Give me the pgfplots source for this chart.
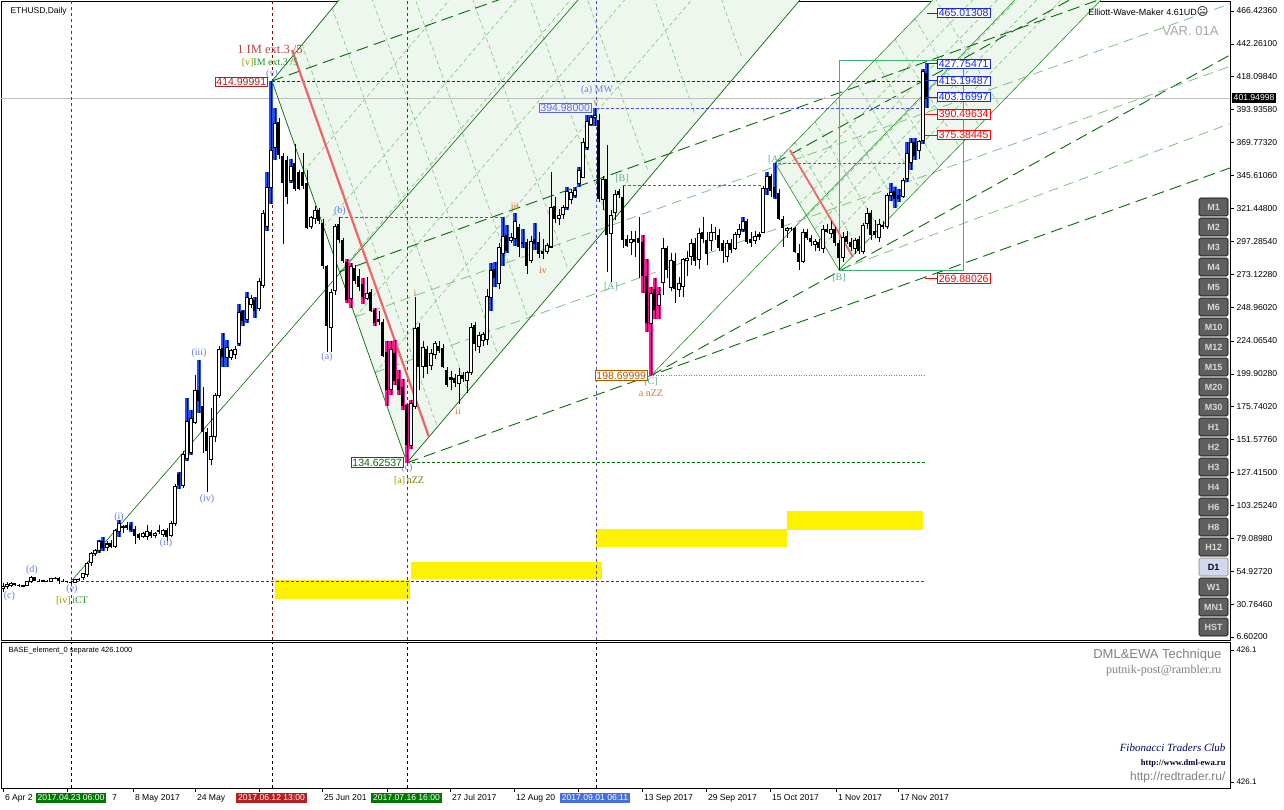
\documentclass[border=0pt]{standalone}
\usepackage{fontspec}
\setmainfont{Liberation Sans}
\newfontfamily\serifL{Liberation Serif}
\newfontfamily\dejavu{DejaVu Sans}
\usepackage{pgfplots}
\usepackage{pgfplotstable}
\pgfplotsset{compat=1.18}

\definecolor{dkgreen}{RGB}{0,110,0}
\definecolor{ltgreen}{RGB}{125,195,125}
\definecolor{bandfill}{RGB}{238,247,238}
\definecolor{wblue}{RGB}{100,125,235}
\definecolor{worange}{RGB}{230,110,40}
\definecolor{wteal}{RGB}{95,175,155}
\definecolor{wolive}{RGB}{150,150,0}
\definecolor{wgreen}{RGB}{30,150,30}
\definecolor{candleblue}{RGB}{40,80,230}
\definecolor{candlemag}{RGB}{240,30,140}
\definecolor{salmon}{RGB}{240,100,100}
\definecolor{btn}{RGB}{95,95,95}
\definecolor{rectgreen}{RGB}{60,179,113}
\definecolor{lblred}{RGB}{178,34,34}
\definecolor{lblblue}{RGB}{20,40,230}
\definecolor{dmlgray}{RGB}{128,128,128}

\newcommand\wavefont{\serifL\fontsize{10}{12}\selectfont}
\newcommand\tickfont{\fontsize{8.6}{10}\selectfont}
\newcommand\boxfont{\fontsize{10.5}{12}\selectfont}
\tikzset{pbox/.style={draw=#1, text=#1, fill=white, line width=0.8pt, inner xsep=1.5pt, inner ysep=1pt, font=\boxfont}}

% d = day index (6 Apr 2017 = 0), O H L C in USD, k: 1 = blue bar, 2 = magenta bar
\pgfplotstableread{
d O H L C k
0 42 46 40 44 0
1 44 47 42 45.5 0
2 44.5 47 43 46 0
3 46 46.5 44 44.5 0
4 44.5 45.5 43.5 44 0
5 44 45 43 44.5 0
6 44.5 48 44 47.5 0
7 47.5 51.5 46.5 50.5 0
8 50.5 51 47.5 48 0
9 48 49 47 47.5 0
10 47.5 48.5 47 48 0
11 48 48.5 47 47.5 0
12 47.5 50 47 49.5 0
13 49.5 51 49 50 0
14 50 50.5 45.5 48 0
15 48 49 47 47.5 0
16 47.5 48 46.5 47 0
17 47 47.5 45.5 46.5 0
18 46.5 49.5 46 49 0
19 49 50 48 48.5 0
20 50 53.5 48.5 53 0
21 52.5 62 51 61 0
22 61 69 59 68 0
23 68 71 66 70 0
24 70 78 68 77 1
25 77 80 70 72 1
26 72 77 70 75 0
27 76 77.5 72 73 0
28 73 86 72 85 0
29 84 92.5 80 90 1
30 87 89 83 88 0
31 89 91 85 87 0
32 89 91 84 85 1
33 86 88 75 81 0
34 82 83 78 79 0
35 80 84 79 83 0
36 80 89 78 84 0
37 84 85 79 81 0
38 81 84 79 83 0
39 85 89 82 84 0
40 82 86 80 85 0
41 85 87 77 80 0
42 81 92 80 90 0
43 90 119 88 117 0
44 126 128 115 118 1
45 118 143 116 141 0
46 138 182 136 165 1
47 142 173 140 167 1
48 164 199 163 188 0
49 188 210 171 180 1
50 176 190 142 157 0
51 157 160 113 143 0
52 137 175 133 154 0
53 154 186 150 184 0
54 184 220 182 218 0
55 219 230 205 212 1
56 212 225 205 219 1
57 212 218 210 217 0
58 214 220 211 218 0
59 222 251 220 245 1
60 246 247 235 239 1
61 240 260 237 256 1
62 251 258 248 255 0
63 254 256 241 246 1
64 248 270 246 268 0
65 265 320 263 318 0
66 308 348 305 337 1
67 337 415 325 364 1
68 366 395 357 384 1
69 385 388 358 361 0
70 360 362 295 340 0
71 357 360 325 330 0
72 342 358 340 352 1
73 355 369 334 336 0
74 348 350 335 336 0
75 348 362 336 338 0
76 340 350 306 307 0
77 308 316 306 315 0
78 314 323 310 320 0
79 320 322 310 312 0
80 311 314 277 279 0
81 279 280 216 235 0
82 234 262 216 260 0
83 261 310 258 308 0
84 310 315 296 298 0
85 298 300 281 283 0
86 282 284 252 254 2
87 255 281 248 279 2
88 278 280 266 268 0
89 272 277 261 264 0
90 266 270 251 256 2
91 255 271 254 259 0
92 260 262 245 246 0
93 247 248 235 237 2
94 240 246 236 238 0
95 238 240 212 213 0
96 216 224 176 188 2
97 188 224 184 218 2
98 215 225 192 195 2
99 196 203 184 188 2
100 190 196 173 176 2
101 177 178 134.6 148 2
102 147 181 145 178 2
103 176 256 174 233 0
104 234 237 188 205 0
105 205 224 197 219 0
106 218 220 200 205 0
107 206 218 203 215 0
108 214 224 211 222 0
109 220 224 215 217 0
110 219 222 204 205 0
111 203 205 190 192 0
112 196 202 188 197 0
113 197 200 190 193 0
114 193 204 178 199 0
115 199 201 194 196 0
116 195 202 186 201 0
117 201 237 199 234 0
118 236 238 217 222 0
119 220 231 215 228 0
120 224 231 220 229 0
121 225 262 221 257 0
122 256 281 246 276 1
123 277 282 264 270 1
124 266 296 262 293 0
125 288 315 279 301 1
126 302 309 289 290 1
127 298 303 296 300 0
128 299 318 294 312 1
129 308 310 286 293 0
130 297 306 292 295 1
131 297 299 273 279 0
132 283 301 281 297 0
133 299 311 291 295 1
134 297 304 285 288 0
135 290 299 284 288 0
136 290 296 288 294 0
137 293 348 292 322 0
138 323 330 311 314 0
139 314 321 309 316 0
140 317 324 314 322 0
141 322 337 320 334 1
142 328 336 325 333 0
143 331 337 329 335 1
144 340 352 337 349 1
145 344 373 344 370 0
146 366 390 364 385 1
147 383 390 382 388 1
148 388 395 382 390 1
149 386 391 326 328 0
150 328 345 320 343 0
151 343 368 275 302 0
152 303 320 267 316 0
153 318 335 313 332 0
154 334 336 329 331 0
155 330 338 292 298 0
156 299 302 293 294 0
157 296 305 287 299 0
158 299 305 286 297 0
159 300 315 270 296 0
160 297 302 259 272 2
161 272 284 231 237 2
162 237 264 198.7 259 2
163 262 270 240 247 2
164 250 264 240 258 2
165 267 300 258 292 0
166 292 294 270 276 0
167 263 289 261 283 0
168 283 289 252 262 0
169 262 271 256 266 0
170 264 285 256 284 0
171 283 290 272 285 0
172 286 299 280 296 0
173 296 300 279 283 0
174 284 307 277 303 0
175 304 315 296 299 0
176 298 304 280 288 0
177 298 310 290 304 0
178 304 308 298 303 0
179 302 306 290 292 0
180 296 298 281 290 0
181 286 298 282 296 0
182 296 299 289 291 0
183 292 304 291 302 0
184 302 310 300 306 0
185 306 315 304 312 1
186 312 314 295 297 0
187 299 304 293 296 0
188 298 305 295 301 0
189 301 304 298 302 0
190 304 338 303 336 0
191 336 348 331 345 1
192 345 347 330 334 0
193 337 355 328 330 1
194 333 336 313 314 0
195 314 316 293 307 0
196 305 308 300 307 0
197 307 308 305 306 0
198 307 308 289 289.5 0
199 289 295 276 282 0
200 282 306 281 304 0
201 304 306 298 300 0
202 300 302 294 297 0
203 295 299 290 297 0
204 297 299 290 292 0
205 292 309 289 306 0
206 306 310 303 304 0
207 303 312 300 306 0
208 306 308 294 296 0
209 296 298 276 285 0
210 285 304 282 300 0
211 301 305 295 297 0
212 297 300 290 293 0
213 292 300 288 298 0
214 299 301 288 290 0
215 290 311 288 309 0
216 310 322 306 318 0
217 318 320 298 302 0
218 305 313 300 302 0
219 300 314 297 310 0
220 309 312 306 308 0
221 308 333 306 331 0
222 331 340 327 333 1
223 334 337 322 328 1
224 331 336 326 328 1
225 330 344 329 342 0
226 343 370 341 362 1
227 355 373 350 370 1
228 370 373 357 360 1
229 364 372 358 371 0
230 371 424 369 422 1
231 421 427.75 395 401.95 1
}\candles

\pgfplotsset{candle/.style n args={2}{draw=none, mark=none, forget plot,
  error bars/.cd, y dir=minus, y explicit, error mark=none,
  error bar style={draw=#1, line width=#2, solid, line cap=butt}}}

\begin{document}
\begin{tikzpicture}
\useasboundingbox (0,0) rectangle (1284pt,-810pt);
\fill[white] (0,0) rectangle (1284pt,-810pt);

%================ MAIN PRICE PANEL =================
\begin{axis}[
  name=main, at={(1pt,-1pt)}, anchor=north west,
  width=1229pt, height=639pt, scale only axis,
  xmin=-0.5, xmax=306.75, ymin=4.40, ymax=473.77,
  axis line style={black, line width=0.8pt},
  xtick=\empty,
  ytick={466.4236,442.261,418.0984,393.9358,369.7732,345.6106,321.448,297.2854,273.1228,248.9602,224.0654,199.9028,175.7402,151.5776,127.415,103.2524,79.0898,54.9272,30.7646,6.602},
  yticklabels={466.42360,442.26100,418.09840,393.93580,369.77320,345.61060,321.44800,297.28540,273.12280,248.96020,224.06540,199.90280,175.74020,151.57760,127.41500,103.25240,79.08980,54.92720,30.76460,6.60200},
  ytick pos=right, yticklabel pos=right,
  tick align=outside, major tick length=4pt,
  tick style={black, line width=0.6pt},
  yticklabel style={font=\tickfont, xshift=-1pt},
  clip=true,
]
% --- shaded channels
\fill[bandfill] (67.25,415) -- (101,134.6) -- (200.8,480) -- (85.55,480) -- cycle;
\fill[bandfill] (193,354.8) -- (209,276.2) -- (276.3,480) -- (234.3,480) -- cycle;

% --- grid of channel 1 (light green dashed)
\pgfplotsinvokeforeach{0.236,0.382,0.5,0.618,0.764}{
  \draw[ltgreen, dash pattern=on 4pt off 3pt, line width=0.6pt]
    ({67.25+33.75*#1},{415-280.4*#1}) -- ({67.25+33.75*#1+(65+280.4*#1)/3.46},480);
}
\pgfplotsinvokeforeach{0.45,0.9,1.35,1.8,2.4,3.0,3.6,4.3,5.0}{
  \draw[ltgreen, dash pattern=on 4pt off 3pt, line width=0.6pt]
    ({67.25+16.75*#1},{415+59.5*#1}) -- ({101+16.75*#1},{134.6+59.5*#1});
}
% --- grid of channel 2
\pgfplotsinvokeforeach{0.236,0.382,0.5,0.618,0.764}{
  \draw[ltgreen, dash pattern=on 4pt off 3pt, line width=0.6pt]
    ({193+16*#1},{354.8-78.6*#1}) -- ({193+16*#1+(125.2+78.6*#1)/3.03},480);
}
\pgfplotsinvokeforeach{0.5,1,1.5,2,2.5,3,3.5,4}{
  \draw[ltgreen, dash pattern=on 4pt off 3pt, line width=0.6pt]
    ({193+10*#1},{354.8+30.3*#1}) -- ({209+10*#1},{276.2+30.3*#1});
}

% --- yellow zones
\fill[yellow] (68,34.5) rectangle (101.75,48.5);
\fill[yellow] (102,49.2) rectangle (149.75,61.7);
\fill[yellow] (148.25,72.7) rectangle (196,85.9);
\fill[yellow] (196,85.2) rectangle (230,99.2);

% --- long dashed fan lines
\draw[dkgreen, dash pattern=on 12pt off 6pt, line width=0.9pt] (101,134.6) -- (307,351.4);
\draw[dkgreen, dash pattern=on 12pt off 6pt, line width=0.9pt] (162,198.7) -- (307,434.5);
\draw[dkgreen, dash pattern=on 12pt off 6pt, line width=0.9pt] (67.25,415) -- (180,533.6);
\draw[dkgreen, dash pattern=on 12pt off 6pt, line width=0.9pt] (84.1,274.8) -- (307,509.4);
\draw[dkgreen, dash pattern=on 12pt off 6pt, line width=0.9pt] (193,354.8) -- (307,540.2);
\draw[ltgreen, dash pattern=on 10pt off 6pt, line width=0.8pt] (93,200.8) -- (307,426);
\draw[ltgreen, dash pattern=on 10pt off 6pt, line width=0.8pt] (88.1,241.7) -- (307,472);
\draw[ltgreen, dash pattern=on 10pt off 6pt, line width=0.8pt] (209,276.2) -- (307,384);

% --- horizontal levels
\draw[gray!50, line width=0.8pt] (-1,401.95) -- (310,401.95);
\draw[red!55!black, dash pattern=on 3pt off 2pt, line width=0.7pt] (67.25,415) -- (230.5,415);
\draw[blue!70, dash pattern=on 3pt off 2pt, line width=0.7pt] (148.25,394.98) -- (230.5,394.98);
\draw[blue!70, dash pattern=on 3pt off 2pt, line width=0.7pt] (84.25,315) -- (125,315);
\draw[dkgreen, dash pattern=on 3pt off 2pt, line width=0.7pt] (101,134.6) -- (230.5,134.6);
\draw[gray, dash pattern=on 1pt off 1.5pt, line width=0.7pt] (162,198.7) -- (230.5,198.7);
\draw[dkgreen, dash pattern=on 3pt off 2pt, line width=0.7pt] (17,47.7) -- (230.5,47.7);
\draw[wgreen, dash pattern=on 3pt off 2pt, line width=0.7pt] (155,338.6) -- (190,338.6);
\draw[wgreen, dash pattern=on 3pt off 2pt, line width=0.7pt] (192.5,354.8) -- (226,354.8);

% --- vertical time lines
\draw[dkgreen, dash pattern=on 3pt off 3pt, line width=0.7pt] (17,0) -- (17,480);
\draw[red!55!black, dash pattern=on 3pt off 3pt, line width=0.7pt] (67.25,0) -- (67.25,480);
\draw[dkgreen, dash pattern=on 3pt off 3pt, line width=0.7pt] (101,0) -- (101,480);
\draw[blue!70, dash pattern=on 3pt off 3pt, line width=0.7pt] (148.25,0) -- (148.25,480);

% --- solid trend lines
\draw[dkgreen, line width=0.6pt] (17,47.5) -- (143.75,474.5);
\draw[dkgreen, line width=0.7pt] (67.25,415) -- (84,474.5);
\draw[dkgreen, line width=0.7pt] (67.25,415) -- (101,134.6);
\draw[dkgreen, line width=0.7pt] (101,134.6) -- (199.25,474.5);
\draw[wgreen, line width=0.6pt] (162,198.7) -- (253,474.5);
\draw[wgreen, line width=0.6pt] (193,354.8) -- (232.5,474.5);
\draw[wgreen, line width=0.6pt] (209,276.2) -- (274.5,474.5);
\draw[wgreen, line width=0.6pt] (193,354.8) -- (209,276.2);
\draw[rectgreen, line width=0.8pt] (209,276.2) rectangle (240,430.4);

% --- red lines
\draw[salmon, line width=2.2pt] (72.25,437.8) -- (106.5,153.5);
\draw[salmon, line width=1.8pt] (196.75,364.3) -- (212.5,285.7);

% ================= candles =================
\addplot[candle={candleblue}{3.2pt}]
  table[x=d, y expr={\thisrow{k}==1 ? \thisrow{H} : nan}, y error expr={\thisrow{H}-\thisrow{L}}] {\candles};
\addplot[candle={candlemag}{3.2pt}]
  table[x=d, y expr={\thisrow{k}==2 ? \thisrow{H} : nan}, y error expr={\thisrow{H}-\thisrow{L}}] {\candles};
\addplot[candle={black}{0.8pt}]
  table[x=d, y=H, y error expr={\thisrow{H}-\thisrow{L}}] {\candles};
\addplot[candle={black}{3pt}]
  table[x=d, y expr={\thisrow{O}>\thisrow{C} ? \thisrow{O} : nan}, y error expr={\thisrow{O}-\thisrow{C}}] {\candles};
\addplot[candle={black}{3.2pt}]
  table[x=d, y expr={\thisrow{C}>=\thisrow{O} ? \thisrow{C}+0.3 : nan}, y error expr={\thisrow{C}-\thisrow{O}+0.6}] {\candles};
\addplot[candle={white}{1.5pt}]
  table[x=d, y expr={\thisrow{C}-\thisrow{O}>1.3 ? \thisrow{C}-0.45 : nan}, y error expr={\thisrow{C}-\thisrow{O}-0.9}] {\candles};

% ================= labels =================
\node[anchor=west, font=\fontsize{8.5}{10}\selectfont] at (1,466.4) {ETHUSD,Daily};
\node[anchor=east, font=\fontsize{9}{10}\selectfont] at (302.25,466.4) {Elliott-Wave-Maker 4.61UD{\dejavu\fontsize{11}{11}\selectfont ☹}};
\node[anchor=east, text=gray!70, font=\fontsize{13}{14}\selectfont] at (304.75,451.7) {VAR. 01A};

\node[wblue, font=\wavefont] at (1.6,36.7) {(c)};
\node[wblue, font=\wavefont] at (7.25,55.8) {(d)};
\node[wblue, font=\wavefont] at (17.25,41.9) {(e)};
\node[font=\wavefont] at (17.25,33.3) {\textcolor{wolive}{[iv]}\,\textcolor{wgreen}{iCT}};
\node[wblue, font=\wavefont] at (29,94.7) {(i)};
\node[wblue, font=\wavefont] at (40.75,75.6) {(ii)};
\node[wblue, font=\wavefont] at (49,215.2) {(iii)};
\node[wblue, font=\wavefont] at (51,108) {(iv)};
\node[wblue, font=\wavefont] at (67.25,420.1) {(v)};
\node[text=lblred!85, font=\serifL\fontsize{12.5}{14}\selectfont] at (66.75,438.3) {1 IM ext.3 /5};
\node[font=\wavefont] at (66.75,428.2) {\textcolor{wolive}{[v]}\textcolor{wgreen}{ IM ext.3 /5}};
\node[wblue, font=\wavefont] at (81,212.3) {(a)};
\node[wblue, font=\wavefont] at (84.25,319.3) {(b)};
\node[wblue, font=\wavefont] at (101,130.5) {(c)};
\node[font=\wavefont] at (101.5,121.6) {\textcolor{wolive}{[a]}\,\textcolor{wolive!80!black}{nZZ}};
\node[worange, font=\wavefont] at (103,259.3) {i};
\node[worange, font=\wavefont] at (113.75,172.6) {ii};
\node[worange, font=\wavefont] at (128,323.2) {iii};
\node[worange, font=\wavefont] at (135,276.2) {iv};
\node[worange, font=\wavefont] at (148.25,398.8) {v};
\node[wblue, font=\wavefont] at (148.5,408.6) {(a) MW};
\node[wteal, font=\wavefont] at (152,263.7) {[A]};
\node[wteal, font=\wavefont] at (154.75,343.0) {[B]};
\node[wteal, font=\wavefont] at (162,194.4) {[C]};
\node[worange, font=\wavefont] at (162,185.8) {a nZZ};
\node[wteal, font=\wavefont] at (193,357.4) {[A]};
\node[wteal, font=\wavefont] at (209,270.8) {[B]};

% --- price boxes
\node[pbox=lblred, anchor=east] at (66.25,414.3) {414.99991};
\node[pbox=lblblue!70, anchor=east, fill=blue!4] at (147.25,395.2) {394.98000};
\node[pbox=dkgreen, anchor=east] at (100.25,134.8) {134.62537};
\node[pbox=orange!70!black, anchor=east] at (161.25,198.7) {198.69999};
\draw[lblblue, line width=0.8pt] (231,465.01) -- (233.5,465.01);
\draw[lblblue, line width=0.8pt] (230.5,427.75) -- (233.5,427.75);
\draw[lblblue, line width=0.8pt] (230.5,415.19) -- (233.5,415.19);
\draw[lblblue, line width=0.8pt] (230.5,403.17) -- (233.5,403.17);
\draw[red, line width=0.8pt] (230.5,390.50) -- (233.5,390.50);
\draw[red, line width=0.8pt] (230.5,375.38) -- (233.5,375.38);
\draw[red, line width=0.8pt] (230.5,269.88) -- (233.5,269.88);
\node[pbox=lblblue, anchor=west] at (233.5,465.01) {465.01308};
\node[pbox=lblblue, anchor=west] at (233.5,427.75) {427.75471};
\node[pbox=lblblue, anchor=west] at (233.5,415.19) {415.19487};
\node[pbox=lblblue, anchor=west] at (233.5,403.17) {403.16997};
\node[pbox=red, anchor=west] at (233.5,390.50) {390.49634};
\node[pbox=red, anchor=west] at (233.5,375.38) {375.38445};
\node[pbox=red, anchor=west] at (233.5,269.88) {269.88026};
\end{axis}

%================ LOWER PANEL =================
\begin{axis}[
  at={(1pt,-642pt)}, anchor=north west,
  width=1229pt, height=146pt, scale only axis,
  xmin=-0.5, xmax=306.75, ymin=0, ymax=1,
  axis line style={black, line width=0.8pt},
  xtick={0,16,32.5,48,64,79.75,96,111.75,127.75,143.75,159.75,175.75,191.75,208.25,223.75},
  xticklabels={6 Apr 2,,8 May 2017,24 May,,25 Jun 201,,27 Jul 2017,12 Aug 20,,13 Sep 2017,29 Sep 2017,15 Oct 2017,1 Nov 2017,17 Nov 2017},
  xticklabel style={anchor=north west, font=\tickfont, xshift=-1.5pt, yshift=1pt},
  ytick={0.04,0.945}, yticklabels={426.1,426.1},
  ytick pos=right, yticklabel pos=right, xtick pos=left,
  tick align=outside, major tick length=4pt,
  tick style={black, line width=0.6pt},
  yticklabel style={font=\fontsize{8}{9}\selectfont, xshift=-1pt},
]
\draw[black, dash pattern=on 3pt off 3pt, line width=0.5pt] (17,0) -- (17,1);
\draw[black, dash pattern=on 3pt off 3pt, line width=0.5pt] (67.25,0) -- (67.25,1);
\draw[black, dash pattern=on 3pt off 3pt, line width=0.5pt] (101,0) -- (101,1);
\draw[black, dash pattern=on 3pt off 3pt, line width=0.5pt] (148.25,0) -- (148.25,1);
\end{axis}

%================ CHROME (terminal interface) =================
\begin{scope}[x=1pt, y=-1pt]
\node[fill=black, text=white, anchor=west, inner xsep=1.5pt, inner ysep=1.5pt, font=\tickfont] at (1232,98) {401.94998};
\foreach \lab [count=\i from 0] in {M1,M2,M3,M4,M5,M6,M10,M12,M15,M20,M30,H1,H2,H3,H4,H6,H8,H12,D1,W1,MN1,HST}{
  \pgfmathsetmacro\yc{207+20*\i}
  \ifnum\i=18
    \draw[rounded corners=1.5pt, fill={rgb,255:red,212;green,216;blue,236}, draw=gray, line width=0.6pt] (1199,\yc-9) rectangle (1228,\yc+9);
    \node[text=black!80!blue, font=\fontsize{9}{10}\selectfont\bfseries] at (1213.5,\yc) {\lab};
  \else
    \draw[rounded corners=1.5pt, fill=btn, draw=black, line width=0.6pt] (1199,\yc-9) rectangle (1228,\yc+9);
    \node[text=white!85!black, font=\fontsize{9}{10}\selectfont\bfseries] at (1213.5,\yc) {\lab};
  \fi
}
\node[anchor=west, font=\fontsize{7.5}{9}\selectfont] at (5,651) {BASE\_element\_0 separate 426.1000};
\node[anchor=east, text=dmlgray, font=\fontsize{13}{14}\selectfont] at (1225,655) {DML\&EWA Technique};
\node[anchor=east, text=dmlgray, font=\serifL\fontsize{12}{13}\selectfont] at (1225,671) {putnik-post@rambler.ru};
\node[anchor=east, text=blue!40!black, font=\serifL\itshape\fontsize{11}{12}\selectfont] at (1229,748) {Fibonacci Traders Club};
\node[anchor=east, text=black!80!blue, font=\serifL\bfseries\fontsize{8.5}{10}\selectfont] at (1229,763) {http://www.dml-ewa.ru};
\node[anchor=east, text=dmlgray, font=\fontsize{12}{13}\selectfont] at (1229,777) {http://redtrader.ru/};
\node[anchor=west, font=\tickfont, inner sep=1pt] at (111,798) {7};
\node[fill={rgb,255:red,0;green,120;blue,0}, text=white, inner xsep=2pt, inner ysep=1.5pt, font=\tickfont] at (71,798) {2017.04.23 06:00};
\node[fill={rgb,255:red,185;green,30;blue,30}, text=white, inner xsep=2pt, inner ysep=1.5pt, font=\tickfont] at (271.5,798) {2017.06.12 13:00};
\node[fill={rgb,255:red,0;green,120;blue,0}, text=white, inner xsep=2pt, inner ysep=1.5pt, font=\tickfont] at (406.5,798) {2017.07.16 16:00};
\node[fill={rgb,255:red,70;green,110;blue,225}, text=white, inner xsep=2pt, inner ysep=1.5pt, font=\tickfont] at (595,798) {2017.09.01 06:11};
\end{scope}
\end{tikzpicture}
\end{document}
